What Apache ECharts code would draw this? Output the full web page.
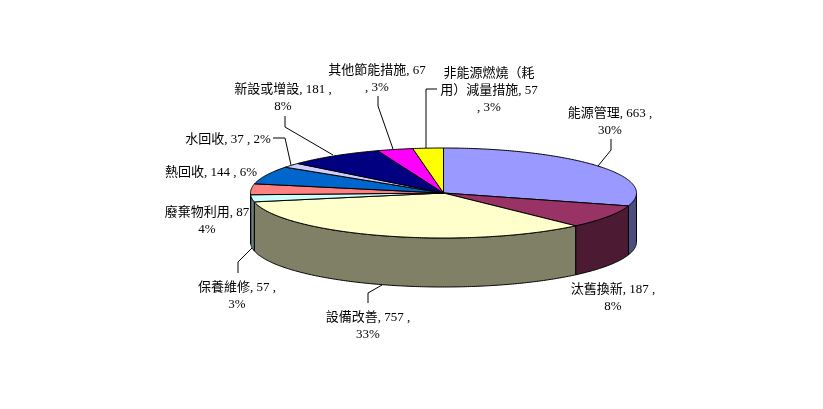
<!DOCTYPE html>
<html><head><meta charset="utf-8">
<style>html,body{margin:0;padding:0;background:#fff}#c{width:823px;height:409px}</style>
<script src="https://cdn.jsdelivr.net/npm/echarts@6/dist/echarts.min.js"></script>
</head><body><div id="c"></div>
<script>
const categories = ['能源管理','汰舊換新','設備改善','保養維修','廢棄物利用','熱回收','水回收','新設或增設','其他節能措施','非能源燃燒（耗用）減量措施'];
const values = [663,187,757,57,87,144,37,181,67,57];
const percents = [30,8,33,3,4,6,2,8,3,3];
const topColors = ['#9999ff','#993366','#ffffcc','#ccffff','#ff8080','#0066cc','#ccccff','#000080','#ff00ff','#ffff00'];
const sideColors = ['#4d4d80','#4d1a33','#808066','#668080','#804040','#003366','#666680','#000040','#800080','#808000'];
const labelLines = [
  ['能源管理, 663 ,','30%'],
  ['汰舊換新, 187 ,','8%'],
  ['設備改善, 757 ,','33%'],
  ['保養維修, 57 ,','3%'],
  ['廢棄物利用, 87','4%'],
  ['熱回收, 144 , 6%'],
  ['水回收, 37 , 2%'],
  ['新設或增設, 181 ,','8%'],
  ['其他節能措施, 67',', 3%'],
  ['非能源燃燒（耗','用）減量措施, 57',', 3%']
];
const labelCenters = [[610,114],[613,290],[368,318],[237,288],[207,213],[211,173],[228,140],[283,90],[377,71],[489,74]];
const labelLeaders = [
  [[611,139],[611,150],[598,166]],
  [[238,273],[238,262],[252,248]],
  [[368,303],[368,293],[382,285]],
  [[273,138],[285,138],[291,165]],
  [[285,116],[285,127],[333,155]],
  [[378,96],[378,106],[393,149]],
  [[437,89],[426,89],[426,148]]
];
const CX = 443.5, CY = 193, RX = 193, RY = 45, DEPTH = 49, LINE_GAP = 17;
const FONT = '13px "Liberation Serif","Noto Sans CJK TC"';

const total = values.reduce((a,b)=>a+b,0);
function sliceRange(i){
  let s = 0;
  for(let k=0;k<i;k++) s += values[k];
  return [s/total*2*Math.PI,(s+values[i])/total*2*Math.PI];
}
function pt(a,dy){ return [CX+RX*Math.sin(a), CY-RY*Math.cos(a)+(dy||0)]; }
function arc(a0,a1,dy){
  const n = Math.max(2,Math.ceil(Math.abs(a1-a0)/0.01)), out=[];
  for(let j=0;j<=n;j++) out.push(pt(a0+(a1-a0)*j/n,dy));
  return out;
}
const lineStyle = {stroke:'#000',lineWidth:1};
function renderTop(params,api){
  const [a0,a1] = sliceRange(api.value(0));
  return {type:'polygon',shape:{points:[[CX,CY]].concat(arc(a0,a1))},
    style:Object.assign({fill:topColors[api.value(0)]},lineStyle)};
}
function renderSide(params,api){
  const i = api.value(0);
  const [s0,s1] = sliceRange(i);
  const a0 = Math.max(s0,Math.PI/2), a1 = Math.min(s1,Math.PI*1.5);
  if(a1<=a0) return {type:'group',children:[]};
  return {type:'polygon',shape:{points:arc(a0,a1).concat(arc(a1,a0,DEPTH))},
    style:Object.assign({fill:sideColors[i]},lineStyle)};
}
const sliceData = categories.map((n,i)=>({name:n,value:[i,values[i],percents[i]]}));
const graphics = [];
labelLeaders.forEach(p=>graphics.push({type:'polyline',silent:true,shape:{points:p},style:{stroke:'#000',lineWidth:1,fill:null}}));
labelLines.forEach((lines,i)=>lines.forEach((t,j)=>graphics.push({
  type:'text',silent:true,x:labelCenters[i][0],y:labelCenters[i][1]+j*LINE_GAP,
  style:{text:t,font:FONT,fill:'#000',align:'center',verticalAlign:'middle'}
})));
const chart = echarts.init(document.getElementById('c'),null,{renderer:'canvas'});
chart.setOption({
  animation:false,backgroundColor:'#fff',
  graphic:graphics,
  series:[
    {type:'custom',coordinateSystem:'none',silent:true,renderItem:renderSide,data:sliceData,z:1},
    {type:'custom',coordinateSystem:'none',silent:true,renderItem:renderTop,data:sliceData,z:2}
  ]
});
</script></body></html>
